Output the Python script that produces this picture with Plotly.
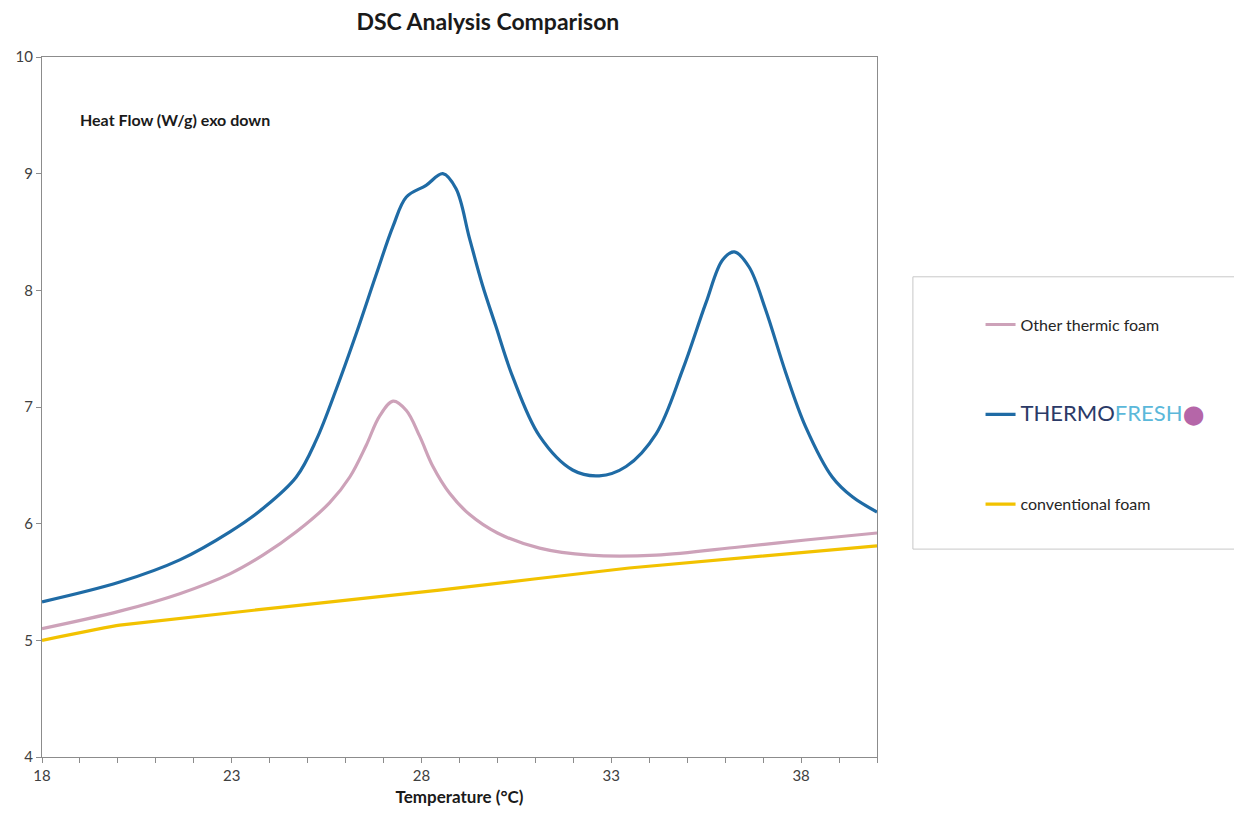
import plotly.graph_objects as go

# Thermofresh (blue)
tf_x = [18.0, 20.05, 21.63, 22.95, 23.82, 24.70, 25.23, 25.75, 26.28, 26.81, 27.25, 27.60, 28.12, 28.56,
        28.91, 29.26, 29.60, 29.95, 30.40, 31.11, 31.98, 32.68, 33.39, 34.18, 34.88, 35.49, 35.93, 36.24,
        36.63, 37.07, 37.60, 38.12, 38.82, 39.35, 40.0]
tf_y = [5.33, 5.50, 5.69, 5.93, 6.13, 6.40, 6.72, 7.15, 7.63, 8.14, 8.55, 8.80, 8.90, 9.00,
        8.87, 8.45, 8.05, 7.70, 7.26, 6.75, 6.46, 6.41, 6.49, 6.77, 7.32, 7.89, 8.26, 8.33,
        8.20, 7.83, 7.29, 6.83, 6.40, 6.23, 6.10]

# Other thermic foam (pink)
ot_x = [18.0, 20.05, 21.63, 22.95, 23.82, 24.70, 25.58, 26.11, 26.54, 26.89, 27.25, 27.60, 27.95,
        28.30, 28.74, 29.26, 30.00, 31.11, 32.42, 34.18, 36.37, 38.12, 40.0]
ot_y = [5.10, 5.25, 5.40, 5.57, 5.73, 5.93, 6.18, 6.40, 6.67, 6.92, 7.05, 6.97, 6.75,
        6.49, 6.26, 6.08, 5.92, 5.79, 5.73, 5.73, 5.80, 5.86, 5.92]

# Conventional foam (yellow)
cf_x = [18.0, 20.05, 28.47, 33.47, 40.0]
cf_y = [5.00, 5.13, 5.43, 5.62, 5.81]

x_ticks = [18, 23, 28, 33, 38]
y_ticks = [4, 5, 6, 7, 8, 9, 10]

BLUE = "#1F6BA5"
PINK = "#CDA2B9"
YELLOW = "#F2C200"

fig = go.Figure()
fig.add_trace(go.Scatter(x=ot_x, y=ot_y, mode="lines", name="Other thermic foam", legendgroup="a",
                         line=dict(color=PINK, width=3.2, shape="spline", smoothing=1.0)))
fig.add_trace(go.Scatter(x=tf_x, y=tf_y, mode="lines",
                         name="<span style='color:#2B3A67;font-size:22px'>THERMO</span>"
                              "<span style='color:#5BB8DA;font-size:22px'>FRESH</span>"
                              "<span style='color:#B566A8;font-size:19px'>⬤</span>",
                         legendgroup="b",
                         line=dict(color=BLUE, width=3.2, shape="spline", smoothing=1.0)))
fig.add_trace(go.Scatter(x=cf_x, y=cf_y, mode="lines", name="conventional foam", legendgroup="c",
                         line=dict(color=YELLOW, width=3.2, shape="spline", smoothing=0.3)))

axis_color = "#8C8C8C"
fig.update_layout(
    width=1242, height=818,
    margin=dict(l=34, r=373, t=49, b=69),
    paper_bgcolor="white", plot_bgcolor="white",
    font=dict(family="Lato, Open Sans, sans-serif", color="#404040", size=15),
    title=dict(text="<b>DSC Analysis Comparison</b>", x=0.534, xanchor="center", xref="paper",
               y=0.983, yanchor="middle", font=dict(size=23, color="#1a1a1a")),
    showlegend=True,
    legend=dict(x=1.124, xanchor="left", y=0.642, yanchor="top", bgcolor="rgba(0,0,0,0)",
                borderwidth=0, tracegroupgap=66, font=dict(size=16, color="#262626")),
    xaxis=dict(range=[18, 40], tickvals=x_ticks, showgrid=False, zeroline=False,
               showline=True, linecolor=axis_color, linewidth=1, mirror=True,
               ticks="outside", ticklen=5, tickcolor=axis_color, automargin=False,
               minor=dict(dtick=1, ticks="outside", ticklen=5, tickcolor=axis_color, showgrid=False),
               title=dict(text="<b>Temperature (°C)</b>", font=dict(size=17, color="#1a1a1a"), standoff=8),
               tickfont=dict(size=15)),
    yaxis=dict(range=[4, 10], tickvals=y_ticks, showgrid=False, zeroline=False,
               showline=True, linecolor=axis_color, linewidth=1, mirror=True, automargin=False,
               ticks="outside", ticklen=5, tickcolor=axis_color, tickfont=dict(size=15)),
)

fig.add_shape(type="rect", xref="paper", yref="paper", x0=1.043, x1=1.437, y0=0.297, y1=0.686,
              line=dict(color="#C8C8C8", width=1), fillcolor="rgba(0,0,0,0)")

fig.add_annotation(text="<b>Heat Flow (W/g) exo down</b>", xref="paper", yref="paper",
                   x=0.043, y=0.91, xanchor="left", yanchor="middle", showarrow=False,
                   font=dict(size=16, color="#1a1a1a"))

fig.write_html("out.html")
